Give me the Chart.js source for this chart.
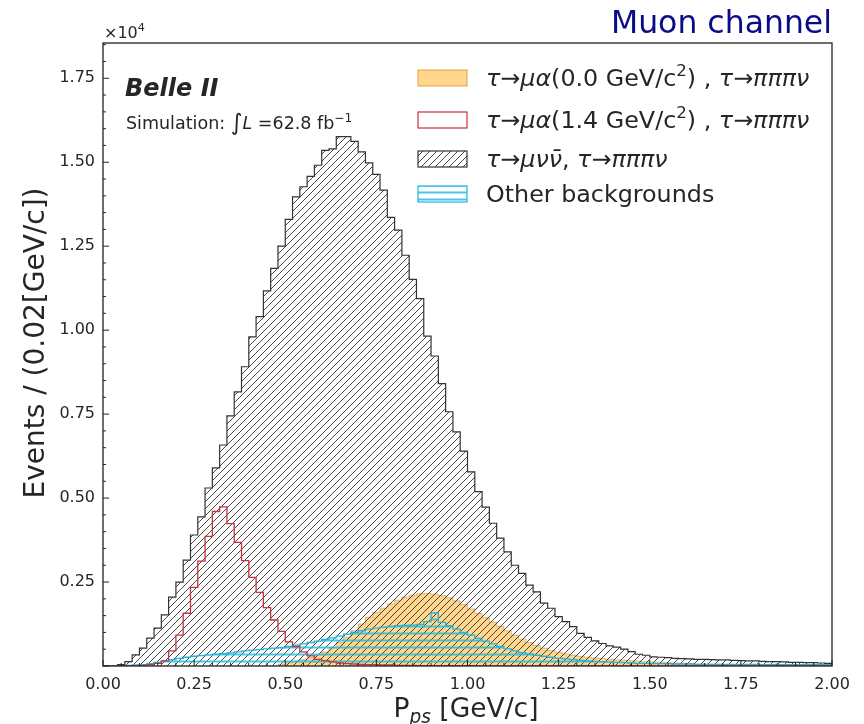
<!DOCTYPE html>
<html>
<head>
<meta charset="utf-8">
<script src="https://cdn.jsdelivr.net/npm/chart.js@4.4.1/dist/chart.umd.min.js"></script>
<style>
  html, body { margin: 0; padding: 0; background: #fff; }
  canvas { display: block; }
</style>
</head>
<body>
<canvas id="c" width="864" height="724"></canvas>
<script>
// bins of P_ps, 0.02 GeV/c wide, 0 -> 2.0
const binWidth = 0.02;
const nBins = 100;
const xTicks = [0, 0.25, 0.5, 0.75, 1.0, 1.25, 1.5, 1.75, 2.0];
const yTicks = [0.25, 0.5, 0.75, 1.0, 1.25, 1.5, 1.75];

// events per bin, in units of 10^4
const smBkg = [0, 0, 0.004, 0.013, 0.033, 0.053, 0.083, 0.113, 0.152, 0.205,
  0.25, 0.315, 0.39, 0.444, 0.53, 0.59, 0.658, 0.745, 0.816, 0.891,
  0.98, 1.04, 1.117, 1.184, 1.25, 1.33, 1.397, 1.427, 1.458, 1.491,
  1.535, 1.54, 1.576, 1.576, 1.562, 1.531, 1.498, 1.464, 1.417, 1.336,
  1.298, 1.223, 1.151, 1.094, 0.982, 0.923, 0.841, 0.757, 0.697, 0.64,
  0.578, 0.519, 0.473, 0.425, 0.381, 0.34, 0.30, 0.276, 0.241, 0.221,
  0.187, 0.172, 0.147, 0.132, 0.117, 0.097, 0.085, 0.075, 0.067, 0.06,
  0.056, 0.05, 0.043, 0.035, 0.032, 0.027, 0.026, 0.025, 0.023, 0.022,
  0.021, 0.02, 0.02, 0.019, 0.018, 0.018, 0.017, 0.016, 0.015, 0.015,
  0.014, 0.013, 0.013, 0.012, 0.011, 0.011, 0.01, 0.01, 0.009, 0.008];

const sig14 = [0, 0, 0, 0, 0, 0.002, 0.004, 0.008, 0.015, 0.045,
  0.092, 0.157, 0.234, 0.312, 0.386, 0.46, 0.474, 0.424, 0.368, 0.314,
  0.264, 0.219, 0.174, 0.137, 0.103, 0.072, 0.058, 0.042, 0.03, 0.02,
  0.016, 0.012, 0.009, 0.007, 0.006, 0.005, 0.004, 0.004, 0.003, 0.003,
  0.002, 0.002, 0.002, 0.001, 0.001, 0.001, 0.001, 0.001, 0.001, 0.001,
  0.001, 0, 0, 0, 0, 0, 0, 0, 0, 0,
  0, 0, 0, 0, 0, 0, 0, 0, 0, 0,
  0, 0, 0, 0, 0, 0, 0, 0, 0, 0,
  0, 0, 0, 0, 0, 0, 0, 0, 0, 0,
  0, 0, 0, 0, 0, 0, 0, 0, 0, 0];

const sig00 = [0, 0, 0, 0, 0, 0, 0, 0, 0, 0,
  0, 0, 0, 0, 0, 0, 0, 0, 0, 0,
  0, 0, 0, 0, 0.005, 0.01, 0.014, 0.019, 0.025, 0.032,
  0.042, 0.055, 0.07, 0.086, 0.105, 0.125, 0.145, 0.16, 0.172, 0.185,
  0.196, 0.205, 0.211, 0.215, 0.216, 0.214, 0.21, 0.203, 0.194, 0.183,
  0.17, 0.157, 0.144, 0.131, 0.118, 0.105, 0.092, 0.08, 0.07, 0.061,
  0.053, 0.046, 0.041, 0.036, 0.032, 0.029, 0.026, 0.024, 0.022, 0.02,
  0.018, 0.017, 0.016, 0.015, 0.013, 0.012, 0.011, 0.01, 0.009, 0.008,
  0.007, 0.006, 0.006, 0.005, 0.005, 0.004, 0.004, 0.003, 0.003, 0.003,
  0.002, 0.002, 0.002, 0.002, 0.002, 0.002, 0.002, 0.002, 0.002, 0.002];

const otherBkg = [0, 0, 0.001, 0.002, 0.003, 0.004, 0.007, 0.011, 0.015, 0.019,
  0.023, 0.026, 0.029, 0.031, 0.033, 0.035, 0.037, 0.039, 0.042, 0.045,
  0.047, 0.049, 0.051, 0.053, 0.055, 0.058, 0.062, 0.066, 0.07, 0.074,
  0.079, 0.084, 0.089, 0.095, 0.1, 0.105, 0.11, 0.113, 0.116, 0.118,
  0.12, 0.121, 0.122, 0.124, 0.132, 0.158, 0.13, 0.12, 0.11, 0.1,
  0.092, 0.082, 0.074, 0.066, 0.058, 0.051, 0.045, 0.04, 0.036, 0.032,
  0.029, 0.026, 0.023, 0.021, 0.019, 0.017, 0.015, 0.014, 0.013, 0.012,
  0.011, 0.01, 0.009, 0.008, 0.008, 0.007, 0.007, 0.007, 0.006, 0.006,
  0.006, 0.005, 0.005, 0.005, 0.005, 0.005, 0.005, 0.005, 0.005, 0.005,
  0.004, 0.004, 0.004, 0.004, 0.004, 0.004, 0.004, 0.004, 0.004, 0.004];

const FONT = '"DejaVu Sans", "Liberation Sans", sans-serif';
const TXT = '#262626';

function hatch(kind, color, lw, size) {
  const c = document.createElement('canvas');
  c.width = c.height = size;
  const g = c.getContext('2d');
  g.strokeStyle = color; g.lineWidth = lw;
  g.beginPath();
  if (kind === '/') {
    g.moveTo(0, size); g.lineTo(size, 0);
    g.moveTo(-size / 2, size / 2); g.lineTo(size / 2, -size / 2);
    g.moveTo(size / 2, size * 1.5); g.lineTo(size * 1.5, size / 2);
  } else {
    g.moveTo(0, size / 2); g.lineTo(size, size / 2);
  }
  g.stroke();
  return g.createPattern(c, 'repeat');
}

const diagHatch = hatch('/', 'rgba(40,40,40,0.85)', 1, 7);
const horizHatch = hatch('-', 'rgba(30,185,225,0.8)', 2, 7);
const orangeFill = 'rgba(255,165,0,0.45)';

// histogram as step line: point at each left bin edge, closing at 2.0
function steps(vals) {
  const pts = [];
  for (let i = 0; i <= nBins; i++) {
    pts.push({ x: i * binWidth, y: i < nBins ? vals[i] : 0 });
  }
  return pts;
}

function rich(ctx, x, y, parts, size, measureOnly) {
  let cx = x;
  for (const [t, st] of parts) {
    let fs = size, dy = 0, it = false;
    if (st === 'i') it = true;
    if (st === 'big') { fs = size * 1.3; dy = size * 0.08; }
    if (st === 'sup') { fs = size * 0.7; dy = -size * 0.42; }
    if (st === 'isub') { fs = size * 0.7; dy = size * 0.22; it = true; }
    ctx.font = (it ? 'italic ' : '') + fs + 'px ' + FONT;
    if (!measureOnly) ctx.fillText(t, cx, y + dy);
    cx += ctx.measureText(t).width;
  }
  return cx - x;
}

const legendItems = [
  { parts: [['τ', 'i'], ['→', 'n'], ['μα', 'i'], ['(0.0 GeV/c', 'n'], ['2', 'sup'], [') , ', 'n'], ['τ', 'i'], ['→', 'n'], ['πππν', 'i']],
    fill: orangeFill, edge: 'rgba(220,150,40,0.7)', y: 78 },
  { parts: [['τ', 'i'], ['→', 'n'], ['μα', 'i'], ['(1.4 GeV/c', 'n'], ['2', 'sup'], [') , ', 'n'], ['τ', 'i'], ['→', 'n'], ['πππν', 'i']],
    fill: '#fff', edge: '#c8323f', y: 120 },
  { parts: [['τ', 'i'], ['→', 'n'], ['μνν̄', 'i'], [', ', 'n'], ['τ', 'i'], ['→', 'n'], ['πππν', 'i']],
    fill: diagHatch, edge: '#333', y: 159 },
  { parts: [['Other backgrounds', 'n']],
    fill: horizHatch, edge: '#20b4dc', y: 194 }
];

const decor = {
  id: 'decor',
  afterDraw(chart) {
    const ctx = chart.ctx;
    const a = chart.chartArea;
    const xs = chart.scales.x, ys = chart.scales.y;
    ctx.save();
    // frame
    ctx.strokeStyle = '#222'; ctx.lineWidth = 1.3;
    ctx.strokeRect(a.left, a.top, a.right - a.left, a.bottom - a.top);
    // inward ticks
    ctx.lineWidth = 1;
    ctx.beginPath();
    for (let k = 0; k <= 40; k++) {
      const v = k * 0.05;
      const len = k % 5 === 0 ? 6 : 3;
      const px = xs.getPixelForValue(v);
      ctx.moveTo(px, a.bottom); ctx.lineTo(px, a.bottom - len);
    }
    for (let k = 0; k <= 37; k++) {
      const v = k * 0.05;
      const len = k % 5 === 0 ? 6 : 3;
      const py = ys.getPixelForValue(v);
      ctx.moveTo(a.left, py); ctx.lineTo(a.left + len, py);
    }
    ctx.stroke();

    ctx.fillStyle = TXT;
    ctx.textBaseline = 'alphabetic';
    ctx.textAlign = 'left';
    // x10^4 multiplier
    rich(ctx, 104, 38, [['×10', 'n'], ['4', 'sup']], 16);
    // Belle II label
    ctx.font = 'italic bold 24px ' + FONT;
    ctx.fillText('Belle II', 125, 96);
    rich(ctx, 126, 129, [['Simulation: ', 'n'], ['∫', 'big'], ['L', 'i'], [' =62.8 fb', 'n'], ['−1', 'sup']], 17.5);

    // legend
    for (const it of legendItems) {
      const bx = 418, bw = 49, bh = 16, by = it.y - bh / 2;
      ctx.fillStyle = '#fff';
      ctx.fillRect(bx, by, bw, bh);
      ctx.fillStyle = it.fill;
      ctx.fillRect(bx, by, bw, bh);
      ctx.strokeStyle = it.edge; ctx.lineWidth = 1.2;
      ctx.strokeRect(bx, by, bw, bh);
      ctx.fillStyle = TXT;
      rich(ctx, 486, it.y + 8, it.parts, 23.8);
    }

    // title
    ctx.fillStyle = '#0b0b8a';
    ctx.font = '31.5px ' + FONT;
    ctx.textAlign = 'right';
    ctx.fillText('Muon channel', 832, 33);

    // axis titles
    ctx.fillStyle = TXT;
    ctx.textAlign = 'left';
    const xt = [['P', 'n'], ['ps', 'isub'], [' [GeV/c]', 'n']];
    const w = rich(ctx, 0, 0, xt, 26.5, true);
    rich(ctx, 466 - w / 2, 717, xt, 26.5);

    ctx.translate(44, 343);
    ctx.rotate(-Math.PI / 2);
    ctx.textAlign = 'center';
    ctx.font = '28px ' + FONT;
    ctx.fillText('Events / (0.02[GeV/c])', 0, 0);
    ctx.restore();
  }
};

// stepped 'before': each bin value held flat from its left edge to the next edge
const histLine = { stepped: 'before', pointRadius: 0 };

new Chart(document.getElementById('c').getContext('2d'), {
  type: 'line',
  data: {
    datasets: [
      { ...histLine, label: 'sig14', data: steps(sig14), fill: false,
        borderColor: '#c8323f', borderWidth: 1.3 },
      { ...histLine, label: 'other', data: steps(otherBkg), fill: 'origin',
        backgroundColor: horizHatch, borderColor: '#20b4dc', borderWidth: 1.3 },
      { ...histLine, label: 'sm', data: steps(smBkg), fill: 'origin',
        backgroundColor: diagHatch, borderColor: '#333', borderWidth: 1.2 },
      { ...histLine, label: 'sig00', data: steps(sig00), fill: 'origin',
        backgroundColor: orangeFill, borderColor: 'rgba(200,150,80,0.6)', borderWidth: 1 }
    ]
  },
  options: {
    responsive: false,
    animation: false,
    layout: { padding: { top: 43, right: 32, left: 0, bottom: 0 } },
    plugins: { legend: { display: false }, tooltip: { enabled: false } },
    elements: { line: { tension: 0 } },
    scales: {
      x: {
        type: 'linear', min: 0, max: 2,
        afterBuildTicks: s => { s.ticks = xTicks.map(v => ({ value: v })); },
        afterFit: s => { s.height = 58; },
        grid: { display: false, drawTicks: false },
        border: { display: false },
        ticks: { autoSkip: false, maxRotation: 0, padding: 9, color: TXT,
          font: { family: FONT, size: 16 }, callback: v => v.toFixed(2) }
      },
      y: {
        type: 'linear', min: 0, max: 1.855,
        afterBuildTicks: s => { s.ticks = yTicks.map(v => ({ value: v })); },
        afterFit: s => { s.width = 103; },
        grid: { display: false, drawTicks: false },
        border: { display: false },
        ticks: { padding: 8, color: TXT,
          font: { family: FONT, size: 16 }, callback: v => v.toFixed(2) }
      }
    }
  },
  plugins: [decor]
});
</script>
</body>
</html>
